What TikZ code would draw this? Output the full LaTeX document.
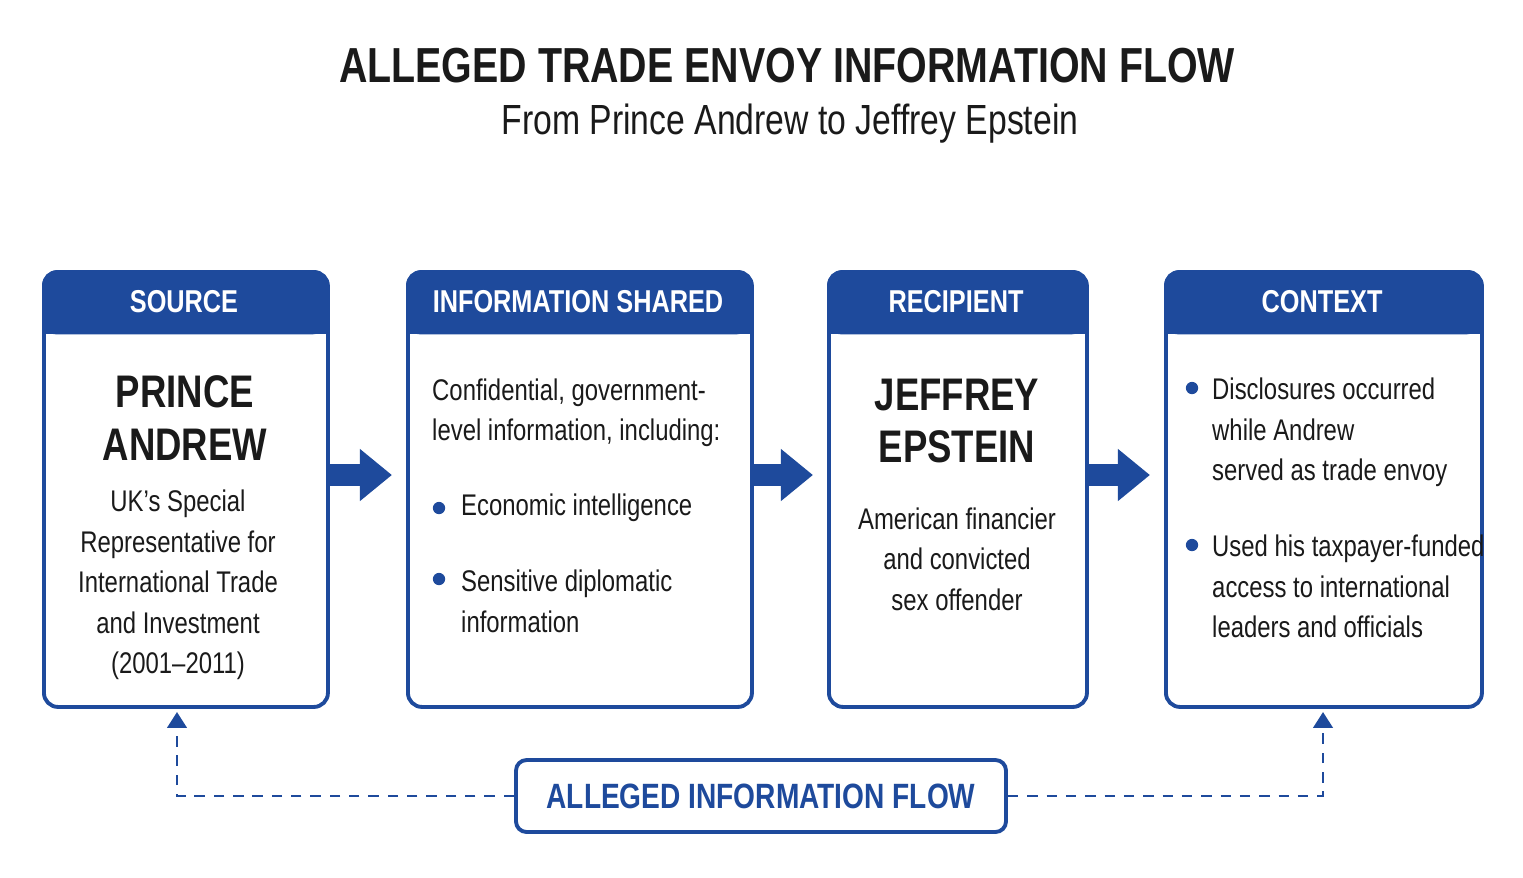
\documentclass[tikz,border=0pt]{standalone}
\usepackage{fontspec}
\setmainfont{Liberation Sans}[FakeStretch=0.80]
\usetikzlibrary{shapes.arrows, positioning, calc, arrows.meta}
\definecolor{envoyblue}{HTML}{1E4A9C}
\definecolor{inkgrey}{HTML}{1A1A1A}
\tikzset{
  panel/.style={draw=envoyblue, line width=2.2pt, rounded corners=8pt, anchor=north west, inner sep=0pt},
  head/.style={fill=envoyblue, rounded corners=8pt, anchor=north west, inner sep=0pt},
  bigname/.style={font=\fontsize{26}{30}\selectfont\bfseries, text=inkgrey, align=center},
  body/.style={font=\fontsize{17}{23}\selectfont, text=inkgrey},
  dot/.style={circle, fill=envoyblue, inner sep=0pt, minimum size=7pt},
  flow/.style={draw=envoyblue, line width=0.44cm, -{Triangle[length=0.64cm,width=1.0cm]}},
  link/.style={draw=envoyblue, line width=1.6pt, dash pattern=on 6pt off 5pt, -{Triangle[length=9pt,width=11pt]}},
}
\begin{document}
\begin{tikzpicture}[x=0.02cm, y=-0.02cm]
  \useasboundingbox[fill=white] (0,0) rectangle (1523,877);

  % title
  \node[font=\fontsize{28}{30}\selectfont\bfseries, text=inkgrey] (title) at (787,66) {ALLEGED TRADE ENVOY INFORMATION FLOW};
  \node[font=\fontsize{24}{26}\selectfont, text=inkgrey] (subtitle) at (790,124) {From Prince Andrew to Jeffrey Epstein};

  % panels: x, width, header text
  \foreach \x/\w/\lbl/\id in {42/284/SOURCE/src, 406/344/INFORMATION SHARED/info, 827/258/RECIPIENT/rcp, 1164/316/CONTEXT/ctx} {
    \node[head, minimum width=\w*0.02cm, minimum height=64*0.02cm] (\id-head) at (\x,270) {};
    \fill[envoyblue] (\x,318) rectangle (\x+\w,334);
    \node[text=white, font=\fontsize{18}{20}\selectfont\bfseries] (\id-title) at (\x+\w/2,302) {\lbl};
    \node[panel, minimum width=\w*0.02cm, minimum height=435*0.02cm] (\id) at (\x,270) {};
  }

  % source
  \node[bigname] (src-name) at (185,418) {PRINCE\\ANDREW};
  \node[body, align=center] (src-text) at (178,585) {UK’s Special\\Representative for\\International Trade\\and Investment\\(2001–2011)};

  % information shared
  \node[body, align=left, anchor=west] (info-text) at (426,413) {Confidential, government-\\level information, including:};
  \node[dot] (info-dot1) at (439,508) {};
  \node[body, anchor=west, align=left] (info-item1) at (455,508) {Economic intelligence};
  \node[dot] (info-dot2) at (439,579) {};
  \node[body, anchor=north west, align=left] (info-item2) at (455,564) {Sensitive diplomatic\\information};

  % recipient
  \node[bigname] (rcp-name) at (957,421) {JEFFREY\\EPSTEIN};
  \node[body, align=center] (rcp-text) at (957,559) {American financier\\and convicted\\sex offender};

  % context
  \node[dot] (ctx-dot1) at (1192,388) {};
  \node[body, anchor=north west, align=left] (ctx-item1) at (1206,372) {Disclosures occurred\\while Andrew\\served as trade envoy};
  \node[dot] (ctx-dot2) at (1192,545) {};
  \node[body, anchor=north west, align=left] (ctx-item2) at (1206,529) {Used his taxpayer-funded\\access to international\\leaders and officials};

  % arrows between panels
  \coordinate (arr-y) at (0,475);
  \draw[flow] (src.east |- arr-y) -- ([xshift=-8]info.west |- arr-y);
  \draw[flow] (info.east |- arr-y) -- ([xshift=-8]rcp.west |- arr-y);
  \draw[flow] (rcp.east |- arr-y) -- ([xshift=-8]ctx.west |- arr-y);

  % bottom flow label
  \node[draw=envoyblue, line width=2.2pt, rounded corners=6pt, minimum width=490*0.02cm, minimum height=72*0.02cm, text=envoyblue, font=\fontsize{20}{22}\selectfont\bfseries] (flowbox) at (761,796) {ALLEGED INFORMATION FLOW};
  \coordinate (src-foot) at (177,712);
  \coordinate (ctx-foot) at (1323,712);
  \draw[link] (flowbox.west) -| (src-foot);
  \draw[link] (flowbox.east) -| (ctx-foot);
\end{tikzpicture}
\end{document}
